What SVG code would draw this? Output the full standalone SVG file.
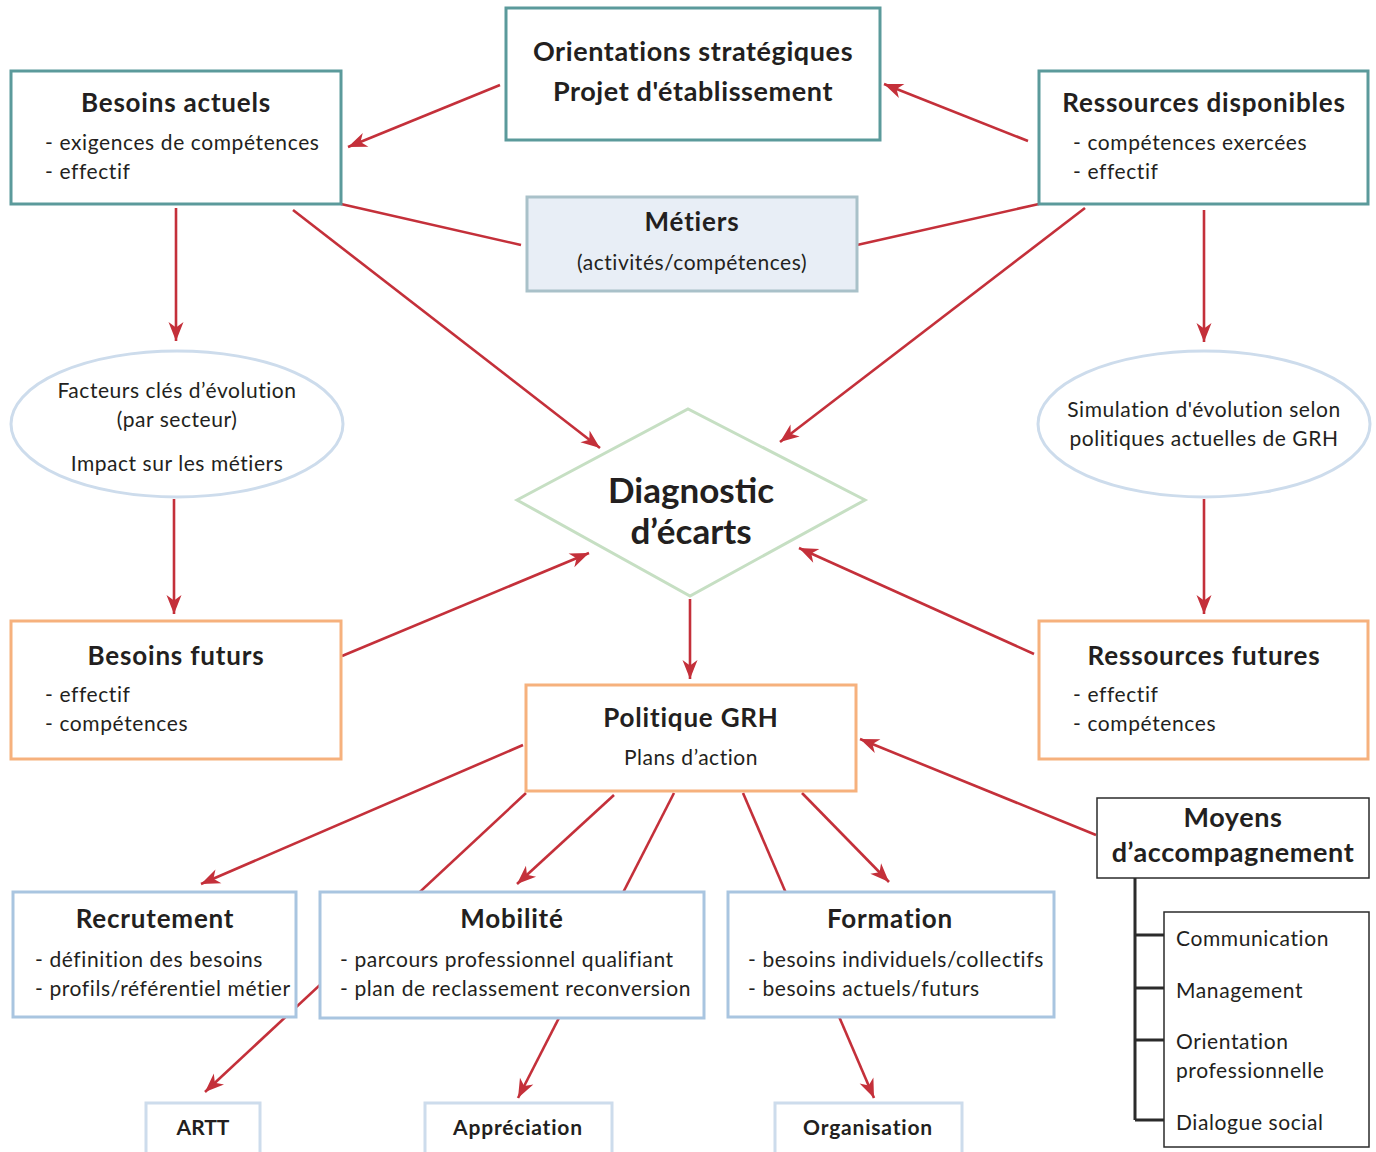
<svg xmlns="http://www.w3.org/2000/svg" width="1376" height="1152" viewBox="0 0 1376 1152">
  <defs>
    <marker id="arr" viewBox="-20 -9 22 18" refX="0" refY="0" markerWidth="22" markerHeight="18" markerUnits="userSpaceOnUse" orient="auto">
      <path d="M0,0 L-19,-7.5 L-13.5,0 L-19,7.5 Z" fill="#c4303a"/>
    </marker>
    <style>
      text { font-family: Lato, "Open Sans", "Noto Sans", sans-serif; fill: #231f20; }
      .t { font-weight: bold; font-size: 26px; letter-spacing: 0.8px; text-anchor: middle; }
      .tb { font-weight: bold; font-size: 27px; letter-spacing: 0.6px; text-anchor: middle; }
      .i { font-size: 21px; letter-spacing: 0.6px; }
      .c { font-size: 21px; letter-spacing: 0.55px; text-anchor: middle; }
      .s { font-weight: bold; font-size: 21px; letter-spacing: 0.8px; text-anchor: middle; }
      .dg { font-weight: bold; font-size: 35px; text-anchor: middle; }
      .teal { fill: #fff; stroke: #5b9a9b; stroke-width: 3; }
      .orange { fill: #fff; stroke: #f6b17d; stroke-width: 3; }
      .blue { fill: #fff; stroke: #a9c5e0; stroke-width: 3; }
      .pale { fill: #fff; stroke: #cddcec; stroke-width: 3; }
      .dark { fill: #fff; stroke: #2b2b2b; stroke-width: 1.5; }
      .link { stroke: #c4303a; stroke-width: 2.6; fill: none; }
      .arrow { marker-end: url(#arr); }
      .tree { stroke: #2b2b2b; stroke-width: 3; fill: none; }
    </style>
  </defs>

  <g id="connectors">
    <line class="link arrow" x1="500" y1="85" x2="348" y2="147"/>
    <line class="link arrow" x1="1028" y1="141" x2="884" y2="84"/>
    <line class="link" x1="341" y1="204" x2="521" y2="245"/>
    <line class="link" x1="1039" y1="204" x2="857" y2="245"/>
    <line class="link arrow" x1="176" y1="208" x2="176" y2="341"/>
    <line class="link arrow" x1="293" y1="210" x2="600" y2="448"/>
    <line class="link arrow" x1="1085" y1="208" x2="780" y2="442"/>
    <line class="link arrow" x1="1204" y1="210" x2="1204" y2="342"/>
    <line class="link arrow" x1="174" y1="499" x2="174" y2="614"/>
    <line class="link arrow" x1="1204" y1="499" x2="1204" y2="614"/>
    <line class="link arrow" x1="342" y1="656" x2="589" y2="553"/>
    <line class="link arrow" x1="1034" y1="654" x2="799" y2="548"/>
    <line class="link arrow" x1="690" y1="599" x2="690" y2="679"/>
    <line class="link arrow" x1="523" y1="745" x2="201" y2="884"/>
    <line class="link arrow" x1="526" y1="793" x2="205" y2="1092"/>
    <line class="link arrow" x1="614" y1="795" x2="517" y2="884"/>
    <line class="link arrow" x1="674" y1="793" x2="518" y2="1098"/>
    <line class="link arrow" x1="743" y1="793" x2="874" y2="1098"/>
    <line class="link arrow" x1="802" y1="793" x2="889" y2="882"/>
    <line class="link arrow" x1="1096" y1="835" x2="860" y2="739"/>
  </g>

  <g id="orientations">
    <rect class="teal" x="506" y="8" width="374" height="132"/>
    <text class="tb" x="693" y="61">Orientations stratégiques</text>
    <text class="tb" x="693" y="101">Projet d'établissement</text>
  </g>

  <g id="besoins-actuels">
    <rect class="teal" x="11" y="71" width="330" height="133"/>
    <text class="t" x="176" y="112">Besoins actuels</text>
    <text class="i" x="45" y="150">- exigences de compétences</text>
    <text class="i" x="45" y="179">- effectif</text>
  </g>

  <g id="ressources-disponibles">
    <rect class="teal" x="1039" y="71" width="329" height="133"/>
    <text class="t" x="1204" y="112">Ressources disponibles</text>
    <text class="i" x="1073" y="150">- compétences exercées</text>
    <text class="i" x="1073" y="179">- effectif</text>
  </g>

  <g id="metiers">
    <rect x="527" y="197" width="330" height="94" fill="#e8eef6" stroke="#a9c1c9" stroke-width="3"/>
    <text class="t" x="692" y="231">Métiers</text>
    <text class="c" x="692" y="270">(activités/compétences)</text>
  </g>

  <g id="facteurs">
    <ellipse class="pale" cx="177" cy="424" rx="166" ry="73"/>
    <text class="c" x="177" y="398">Facteurs clés d’évolution</text>
    <text class="c" x="177" y="427">(par secteur)</text>
    <text class="c" x="177" y="471">Impact sur les métiers</text>
  </g>

  <g id="simulation">
    <ellipse class="pale" cx="1204" cy="424" rx="166" ry="73"/>
    <text class="c" x="1204" y="417">Simulation d'évolution selon</text>
    <text class="c" x="1204" y="446">politiques actuelles de GRH</text>
  </g>

  <g id="diagnostic">
    <polygon points="517,500 688,409 865,500 690,596" fill="#fff" stroke="#c6dfc3" stroke-width="3"/>
    <text class="dg" x="691" y="503">Diagnostic</text>
    <text class="dg" x="691" y="544">d’écarts</text>
  </g>

  <g id="besoins-futurs">
    <rect class="orange" x="11" y="621" width="330" height="138"/>
    <text class="t" x="176" y="665">Besoins futurs</text>
    <text class="i" x="45" y="702">- effectif</text>
    <text class="i" x="45" y="731">- compétences</text>
  </g>

  <g id="ressources-futures">
    <rect class="orange" x="1039" y="621" width="329" height="138"/>
    <text class="t" x="1204" y="665">Ressources futures</text>
    <text class="i" x="1073" y="702">- effectif</text>
    <text class="i" x="1073" y="731">- compétences</text>
  </g>

  <g id="politique-grh">
    <rect class="orange" x="526" y="685" width="330" height="106"/>
    <text class="t" x="691" y="727">Politique GRH</text>
    <text class="c" x="691" y="765">Plans d’action</text>
  </g>

  <g id="moyens">
    <rect class="dark" x="1097" y="798" width="272" height="80"/>
    <text class="tb" x="1233" y="827">Moyens</text>
    <text class="tb" x="1233" y="862">d’accompagnement</text>
  </g>

  <g id="moyens-liste">
    <path class="tree" d="M1135,878 V1120 M1135,935 H1164 M1135,988 H1164 M1135,1040 H1164 M1135,1120 H1164"/>
    <rect class="dark" x="1164" y="912" width="205" height="235"/>
    <text class="i" x="1176" y="946">Communication</text>
    <text class="i" x="1176" y="998">Management</text>
    <text class="i" x="1176" y="1049">Orientation</text>
    <text class="i" x="1176" y="1078">professionnelle</text>
    <text class="i" x="1176" y="1130">Dialogue social</text>
  </g>

  <g id="recrutement">
    <rect class="blue" x="13" y="892" width="283" height="125"/>
    <text class="t" x="155" y="928">Recrutement</text>
    <text class="i" x="35" y="967">- définition des besoins</text>
    <text class="i" x="35" y="996">- profils/référentiel métier</text>
  </g>

  <g id="mobilite">
    <rect class="blue" x="320" y="892" width="384" height="126"/>
    <text class="t" x="512" y="928">Mobilité</text>
    <text class="i" x="340" y="967">- parcours professionnel qualifiant</text>
    <text class="i" x="340" y="996">- plan de reclassement reconversion</text>
  </g>

  <g id="formation">
    <rect class="blue" x="728" y="892" width="326" height="125"/>
    <text class="t" x="890" y="928">Formation</text>
    <text class="i" x="748" y="967">- besoins individuels/collectifs</text>
    <text class="i" x="748" y="996">- besoins actuels/futurs</text>
  </g>

  <g id="artt">
    <rect class="pale" x="146" y="1103" width="114" height="60"/>
    <text class="s" x="203" y="1135" style="letter-spacing:0">ARTT</text>
  </g>

  <g id="appreciation">
    <rect class="pale" x="425" y="1103" width="187" height="60"/>
    <text class="s" x="518" y="1135">Appréciation</text>
  </g>

  <g id="organisation">
    <rect class="pale" x="775" y="1103" width="187" height="60"/>
    <text class="s" x="868" y="1135">Organisation</text>
  </g>
</svg>
